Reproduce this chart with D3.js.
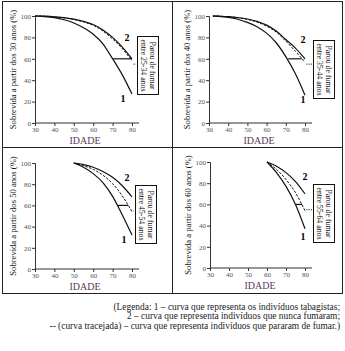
<!DOCTYPE html>
<html>
<head>
<meta charset="utf-8">
<script src="https://cdn.jsdelivr.net/npm/d3@7/dist/d3.min.js"></script>
<style>
  html, body { margin: 0; padding: 0; background: #fff; }
  svg { display: block; }
  text { font-family: "Liberation Serif", "Times New Roman", serif; }
</style>
</head>
<body>
<svg id="chart" width="345" height="351"></svg>
<script>
// Survival curves by age, four starting ages
const startAges = [30, 40, 50, 60];
const quitRanges = ["25-34", "35-44", "45-54", "55-64"];
const xTicks = [30, 40, 50, 60, 70, 80];
const yTicks = [0, 20, 40, 60, 80, 100];

const ages30 = [30, 35, 40, 45, 50, 55, 60, 65, 70, 75, 80];
const smokers30 = [100, 99.5, 98.5, 96.5, 93.5, 89, 83, 74, 60, 45, 27];
const never30 = [100, 99.8, 99.3, 98.5, 97, 95, 92, 87, 80, 71, 60];
const quit30 = [100, 99.8, 99.2, 98.3, 96.7, 94.5, 91.3, 86, 78.5, 69.5, 58];

const ages40 = [32, 35, 40, 45, 50, 55, 60, 65, 70, 75, 80];
const smokers40 = [100, 99.6, 98.8, 97, 94, 90, 84, 75, 62, 46, 26];
const never40 = [100, 99.8, 99.4, 98.6, 97.2, 95, 91.5, 86, 78, 70, 60];
const quit40 = [100, 99.8, 99.3, 98.4, 96.8, 94.3, 90.5, 85, 76.5, 67, 57];

const ages50 = [50, 55, 60, 65, 70, 75, 80];
const smokers50 = [100, 96, 90, 81.5, 68.5, 51, 32];
const never50 = [100, 98.5, 96, 92, 86.5, 78.5, 68];
const quit50 = [100, 97.5, 94, 88.5, 80.5, 69, 54];

const ages60 = [60, 65, 70, 75, 80];
const smokers60 = [100, 90, 77, 60, 37];
const never60 = [100, 96, 90, 81.5, 70];
const quit60 = [100, 93, 83.5, 71, 54];

// age span of the 60 % reference segment (smokers vs. former smokers)
const gapFrom = [70, 71.3, 72.4, 75];
const gapTo = [80, 78.3, 78, 78.5];

const panels = [
  { ages: ages30, s: smokers30, n: never30, q: quit30 },
  { ages: ages40, s: smokers40, n: never40, q: quit40 },
  { ages: ages50, s: smokers50, n: never50, q: quit50 },
  { ages: ages60, s: smokers60, n: never60, q: quit60 }
];

// layout of each cell: axis origin and extent
const frames = [
  { x0: 35, y0: 123, w: 97, h: 107, box: [137, 36], lab2: [77.4, 80], lab1: [75.4, 23] },
  { x0: 209, y0: 123, w: 96, h: 107, box: [313, 40], lab2: [79, 77.6], lab1: [79, 21.5] },
  { x0: 35, y0: 269, w: 97, h: 106, box: [135, 185], lab2: [77.4, 86], lab1: [75.9, 28] },
  { x0: 210, y0: 268, w: 95, h: 106, box: [313, 184], lab2: [80, 86], lab1: [79, 30] }
];

const svg = d3.select("#chart");

// table grid
const grid = svg.append("g").attr("stroke", "#222").attr("fill", "none");
grid.append("rect").attr("x", 2.5).attr("y", 1.5).attr("width", 340).attr("height", 292).attr("stroke-width", 1);
grid.append("line").attr("x1", 172.5).attr("x2", 172.5).attr("y1", 1.5).attr("y2", 293.5);
grid.append("line").attr("x1", 2.5).attr("x2", 342.5).attr("y1", 147.5).attr("y2", 147.5);

panels.forEach((p, i) => {
  const f = frames[i];
  const x = d3.scaleLinear().domain([30, 80]).range([f.x0, f.x0 + f.w]);
  const y = d3.scaleLinear().domain([0, 100]).range([f.y0, f.y0 - f.h]);
  const g = svg.append("g");

  // x axis
  const xa = g.append("g").attr("transform", `translate(0,${f.y0})`)
    .call(d3.axisBottom(x).tickValues(xTicks).tickSize(3).tickPadding(1));
  xa.select(".domain").attr("d", `M${f.x0},0H${f.x0 + f.w + 7}`);
  // y axis
  g.append("g").attr("transform", `translate(${f.x0},0)`)
    .call(d3.axisLeft(y).tickValues(yTicks).tickSize(3).tickPadding(1));
  g.selectAll(".domain").attr("stroke", "#333");
  g.selectAll(".tick line").attr("stroke", "#333");
  g.selectAll(".tick text").attr("font-family", "Liberation Serif, serif")
    .attr("font-size", 7).attr("fill", "#555");

  // axis titles
  g.append("text").attr("x", f.x0 + 50).attr("y", f.y0 + 21)
    .attr("text-anchor", "middle").attr("font-size", 10).attr("fill", "#5a3a5e")
    .text("IDADE");
  g.append("text")
    .attr("transform", `translate(${f.x0 - 19},${f.y0 - f.h / 2}) rotate(-90)`)
    .attr("text-anchor", "middle").attr("font-size", 8.6).attr("fill", "#111")
    .text(`Sobrevida a partir dos ${startAges[i]} anos (%)`);

  const line = vals => d3.line().x((d, k) => x(p.ages[k])).y(d => y(d)).curve(d3.curveMonotoneX)(vals);

  g.append("path").attr("d", line(p.q)).attr("fill", "none").attr("stroke", "#111")
    .attr("stroke-width", 1).attr("stroke-dasharray", "2.5,1.5");
  g.append("path").attr("d", line(p.n)).attr("fill", "none").attr("stroke", "#111").attr("stroke-width", 1.2);
  g.append("path").attr("d", line(p.s)).attr("fill", "none").attr("stroke", "#111").attr("stroke-width", 1.2);

  // 60 % reference segment
  g.append("line").attr("x1", x(gapFrom[i])).attr("x2", x(gapTo[i]))
    .attr("y1", y(60)).attr("y2", y(60)).attr("stroke", "#111").attr("stroke-width", 1.2);

  // leader from the dashed curve to the note box
  g.append("line").attr("x1", x(80.8)).attr("x2", f.box[0] - 1)
    .attr("y1", y(55)).attr("y2", y(55)).attr("stroke", "#111").attr("stroke-dasharray", "1,1.2");

  // curve numbers
  g.append("text").attr("x", x(f.lab2[0])).attr("y", y(f.lab2[1])).attr("dy", "0.35em")
    .attr("text-anchor", "middle").attr("font-size", 10).attr("font-weight", "bold").text("2");
  g.append("text").attr("x", x(f.lab1[0])).attr("y", y(f.lab1[1])).attr("dy", "0.35em")
    .attr("text-anchor", "middle").attr("font-size", 10).attr("font-weight", "bold").text("1");

  // note box
  const bw = 21, bh = 58;
  g.append("rect").attr("x", f.box[0] + 0.5).attr("y", f.box[1] + 0.5).attr("width", bw).attr("height", bh)
    .attr("fill", "#fff").attr("stroke", "#111").attr("stroke-width", 1);
  const note = g.append("text")
    .attr("transform", `translate(${f.box[0] + bw / 2 + 0.5},${f.box[1] + bh / 2 + 0.5}) rotate(90)`)
    .attr("text-anchor", "middle").attr("font-size", 7.8).attr("fill", "#111");
  note.append("tspan").attr("x", 0).attr("y", -1.6).text("Parou de fumar");
  note.append("tspan").attr("x", 0).attr("y", 6.8).text(`entre ${quitRanges[i]} anos`);
});

// key below the table
const legendLines = [
  "(Legenda: 1 – curva que representa os indivíduos tabagistas;",
  "2 – curva que representa indivíduos que nunca fumaram;",
  "-- (curva tracejada) – curva que representa indivíduos que pararam de fumar.)"
];
svg.append("g").selectAll("text").data(legendLines).join("text")
  .attr("x", 340).attr("y", (d, k) => 310 + k * 9.3)
  .attr("text-anchor", "end").attr("font-size", 9.4).attr("fill", "#222")
  .text(d => d);
</script>
</body>
</html>
